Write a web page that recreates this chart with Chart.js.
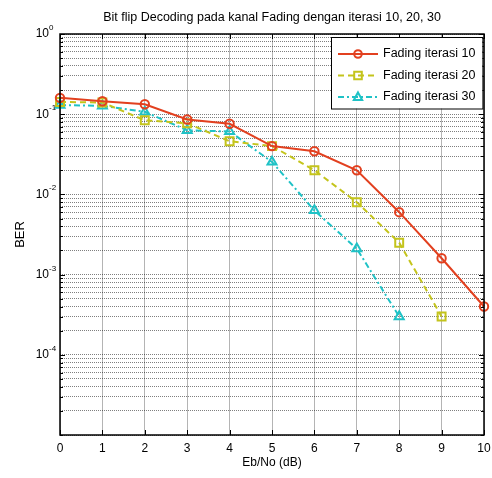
<!DOCTYPE html>
<html>
<head>
<meta charset="utf-8">
<script src="https://cdn.jsdelivr.net/npm/chart.js@4.4.0/dist/chart.umd.min.js"></script>
<style>
  body { margin: 0; background: #fff; }
  canvas { display: block; }
</style>
</head>
<body>
<canvas id="berChart" width="492" height="478"></canvas>
<script>
    'use strict';

    // data
    var snrDb = [0, 1, 2, 3, 4, 5, 6, 7, 8, 9, 10];
    var berIter10 = [0.16, 0.145, 0.133, 0.086, 0.076, 0.040, 0.0345, 0.020, 0.0060, 0.0016, 0.0004];
    var berIter20 = [0.142, 0.14, 0.084, 0.077, 0.046, 0.040, 0.020, 0.0080, 0.0025, 0.0003];
    var berIter30 = [0.13, 0.127, 0.107, 0.063, 0.061, 0.0254, 0.0063, 0.0021, 0.0003];
    var seriesNames = ['Fading iterasi 10', 'Fading iterasi 20', 'Fading iterasi 30'];
    var decadeTicks = [1, 0.1, 0.01, 0.001, 0.0001];
    var decadeExp = ['0', '-1', '-2', '-3', '-4'];
    var chartTitle = 'Bit flip Decoding pada kanal Fading dengan iterasi 10, 20, 30';

    var fontFamily = '"Liberation Sans", Arial, sans-serif';

    function points(ys) {
        return ys.map(function (y, i) { return { x: snrDb[i], y: y }; });
    }

    // every 1..9 x 10^n line between 1e-5 and 1
    var yGridValues = [];
    for (var e = -5; e < 0; e++) {
        for (var m = 1; m < 10; m++) {
            yGridValues.push(m * Math.pow(10, e));
        }
    }
    yGridValues.push(1);

    var framePlugin = {
        id: 'frame',
        afterDraw: function (chart) {
            var ctx = chart.ctx;
            var area = chart.chartArea;
            var xScale = chart.scales.x;
            var yScale = chart.scales.y;

            ctx.save();

            // title over the plot area
            ctx.fillStyle = '#000';
            ctx.font = '12.5px ' + fontFamily;
            ctx.textAlign = 'center';
            ctx.textBaseline = 'middle';
            ctx.fillText(chartTitle, (area.left + area.right) / 2, 18);

            // inside tick marks, matlab style
            ctx.strokeStyle = '#000';
            ctx.lineWidth = 1;
            ctx.beginPath();
            yGridValues.forEach(function (v) {
                var py = Math.round(yScale.getPixelForValue(v)) + 0.5;
                var len = decadeTicks.indexOf(v) >= 0 ? 5 : 3;
                ctx.moveTo(area.left, py); ctx.lineTo(area.left + len, py);
                ctx.moveTo(area.right, py); ctx.lineTo(area.right - len, py);
            });
            snrDb.forEach(function (v) {
                var px = Math.round(xScale.getPixelForValue(v)) + 0.5;
                ctx.moveTo(px, area.bottom); ctx.lineTo(px, area.bottom - 5);
                ctx.moveTo(px, area.top); ctx.lineTo(px, area.top + 5);
            });
            ctx.stroke();

            ctx.lineWidth = 1.5;
            ctx.strokeRect(area.left, area.top, area.right - area.left, area.bottom - area.top);

            // y tick labels as 10^n
            decadeTicks.forEach(function (v, i) {
                var py = yScale.getPixelForValue(v);
                ctx.font = '12px ' + fontFamily;
                ctx.textAlign = 'right';
                ctx.textBaseline = 'middle';
                ctx.fillText('10', area.left - 11, py);
                ctx.font = '8px ' + fontFamily;
                ctx.textAlign = 'left';
                ctx.textBaseline = 'alphabetic';
                ctx.fillText(decadeExp[i], area.left - 11, py - 4);
            });

            // legend box in the top right corner
            ctx.font = '12.5px ' + fontFamily;
            var textW = 0;
            seriesNames.forEach(function (n) { textW = Math.max(textW, ctx.measureText(n).width); });
            var rowH = 21.5;
            var boxW = 7 + 40 + 5 + textW + 7;
            var boxH = rowH * 3 + 7;
            var bx = Math.round(area.right - 2 - boxW);
            var by = area.top + 3;
            ctx.fillStyle = '#fff';
            ctx.fillRect(bx, by, boxW, boxH);
            ctx.strokeStyle = '#000';
            ctx.lineWidth = 1;
            ctx.strokeRect(bx + 0.5, by + 0.5, boxW, boxH);

            chart.data.datasets.forEach(function (ds, i) {
                var cy = by + 17 + i * rowH;
                var x0 = bx + 7;
                ctx.strokeStyle = ds.borderColor;
                ctx.lineWidth = 2;
                ctx.setLineDash(ds.borderDash || []);
                ctx.beginPath();
                ctx.moveTo(x0, cy);
                ctx.lineTo(x0 + 40, cy);
                ctx.stroke();
                ctx.setLineDash([]);
                drawMarker(ctx, ds.pointStyle, x0 + 20, cy, 3.8);
                ctx.fillStyle = '#000';
                ctx.textAlign = 'left';
                ctx.textBaseline = 'middle';
                ctx.fillText(ds.label, x0 + 45, cy);
            });
            ctx.restore();
        }
    };

    function drawMarker(ctx, style, x, y, r) {
        ctx.beginPath();
        if (style === 'circle') {
            ctx.arc(x, y, r, 0, Math.PI * 2);
        } else if (style === 'rect') {
            ctx.rect(x - r, y - r, r * 2, r * 2);
        } else {
            ctx.moveTo(x, y - r * 1.2);
            ctx.lineTo(x + r * 1.1, y + r * 0.8);
            ctx.lineTo(x - r * 1.1, y + r * 0.8);
            ctx.closePath();
        }
        ctx.stroke();
    }

    var ctx = document.getElementById('berChart');
    var berChart = new Chart(ctx, {
        type: 'line',
        data: {
            datasets: [
                {
                    label: seriesNames[0],
                    data: points(berIter10),
                    borderColor: '#e2401f',
                    borderWidth: 2,
                    pointStyle: 'circle',
                    pointRadius: 4.2,
                    pointBorderWidth: 2,
                    pointBackgroundColor: 'rgba(0,0,0,0)',
                    clip: false
                },
                {
                    label: seriesNames[1],
                    data: points(berIter20),
                    borderColor: '#c4c41c',
                    borderWidth: 2,
                    borderDash: [6, 4],
                    pointStyle: 'rect',
                    pointRadius: 5.6,
                    pointBorderWidth: 2,
                    pointBackgroundColor: 'rgba(0,0,0,0)',
                    clip: false
                },
                {
                    label: seriesNames[2],
                    data: points(berIter30),
                    borderColor: '#1fc2c6',
                    borderWidth: 2,
                    borderDash: [6, 3, 2, 3],
                    pointStyle: 'triangle',
                    pointRadius: 5.2,
                    pointBorderWidth: 2,
                    pointBackgroundColor: 'rgba(0,0,0,0)',
                    clip: false
                }
            ]
        },
        options: {
            responsive: false,
            animation: false,
            layout: { padding: { left: 0, right: 8, top: 34, bottom: 0 } },
            plugins: {
                legend: { display: false },
                tooltip: { enabled: false },
                title: { display: false }
            },
            scales: {
                x: {
                    type: 'linear',
                    min: 0,
                    max: 10,
                    afterFit: function (scale) {
                        scale.height = 43;
                        scale.paddingLeft = 0;
                        scale.paddingRight = 0;
                    },
                    ticks: {
                        stepSize: 1,
                        padding: 6,
                        color: '#000',
                        font: { family: fontFamily, size: 12 }
                    },
                    grid: { color: '#b4b4b4', lineWidth: 1, drawTicks: false },
                    border: { display: false },
                    title: {
                        display: true,
                        text: 'Eb/No (dB)',
                        color: '#000',
                        font: { family: fontFamily, size: 12 },
                        padding: { top: 0, bottom: 8 }
                    }
                },
                y: {
                    type: 'logarithmic',
                    min: 1e-5,
                    max: 1,
                    afterFit: function (scale) {
                        scale.width = 60;
                        scale.paddingTop = 0;
                        scale.paddingBottom = 0;
                    },
                    afterBuildTicks: function (scale) {
                        scale.ticks = yGridValues.map(function (v) { return { value: v }; });
                    },
                    ticks: { display: false },
                    grid: { color: 'rgba(0,0,0,0.5)', lineWidth: 1, drawTicks: false },
                    border: { display: false, dash: [1, 1] },
                    title: {
                        display: true,
                        text: 'BER',
                        color: '#000',
                        font: { family: fontFamily, size: 13 },
                        padding: { top: 13, bottom: 0 }
                    }
                }
            }
        },
        plugins: [framePlugin]
    });
</script>
</body>
</html>
